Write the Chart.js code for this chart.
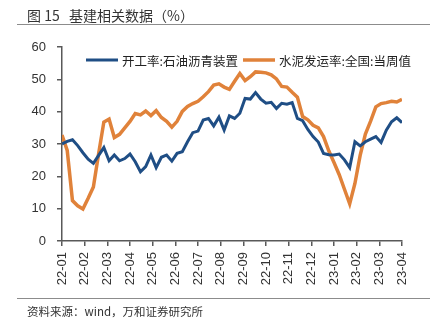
<!DOCTYPE html>
<html>
<head>
<meta charset="utf-8">
<script src="https://cdn.jsdelivr.net/npm/chart.js@4.4.1/dist/chart.umd.min.js"></script>
<style>
  html, body { margin: 0; padding: 0; background: #fff; }
  #wrap { position: relative; width: 443px; height: 331px; overflow: hidden; }
  #c { position: absolute; left: 0; top: 0; }
  .title { position: absolute; left: 27px; top: 5px; font: 14px "Noto Sans CJK SC", sans-serif; color: #333; white-space: pre; }
  .rule { position: absolute; left: 17px; width: 413px; height: 0; border-top: 1.5px solid #8c8c8c; }
  .source { position: absolute; left: 27px; top: 303px; font: 11.5px "Noto Sans CJK SC", sans-serif; color: #333; }
</style>
</head>
<body>
<div id="wrap">
  <canvas id="c" width="443" height="331"></canvas>
  <div class="title">图 15   基建相关数据（%）</div>
  <div class="rule" style="top:24px"></div>
  <div class="rule" style="top:298px"></div>
  <div class="source">资料来源：wind，万和证券研究所</div>
</div>
<script>
// month tick labels (x axis is in months from 22-01)
const monthLabels = ['22-01', '22-02', '22-03', '22-04', '22-05', '22-06', '22-07', '22-08',
                     '22-09', '22-10', '22-11', '22-12', '23-01', '23-02', '23-03', '23-04'];

// weekly readings, 66 weeks from 22-01 to 23-04
const asphaltRate = [30.0, 30.8, 31.3, 29.5, 27.3, 25.3, 24.0, 26.5, 28.9, 24.8,
                     26.6, 24.8, 25.5, 26.9, 24.5, 21.4, 23.0, 26.6, 22.7, 25.9,
                     26.6, 24.7, 27.1, 27.6, 30.7, 33.5, 34.0, 37.4, 37.9, 35.6,
                     38.3, 34.3, 38.7, 37.9, 39.5, 44.1, 43.9, 45.9, 43.9, 42.6,
                     42.9, 41.0, 42.6, 42.3, 42.8, 37.9, 37.2, 34.5, 32.3, 30.6,
                     27.1, 26.7, 26.6, 26.9, 25.1, 22.7, 30.7, 29.4, 30.7, 31.5,
                     32.3, 30.5, 34.3, 36.9, 38.1, 36.6];
const cementRate = [32.8, 28.0, 12.5, 10.9, 9.9, 13.2, 16.7, 27.0, 36.8, 37.7,
                    32.0, 33.0, 35.0, 37.0, 39.4, 39.0, 40.2, 38.8, 40.3, 38.2,
                    37.0, 35.2, 37.0, 40.1, 41.6, 42.5, 43.2, 44.6, 46.2, 48.2,
                    48.6, 47.6, 46.9, 49.4, 51.8, 49.6, 50.8, 52.3, 52.2, 52.0,
                    51.4, 50.1, 47.8, 47.6, 46.0, 44.5, 38.5, 37.5, 35.8, 35.0,
                    32.3, 27.9, 24.3, 20.5, 16.0, 11.5, 17.8, 26.5, 33.1, 37.1,
                    41.5, 42.5, 42.8, 43.2, 43.0, 43.8];
const seriesNames = ['开工率:石油沥青装置', '水泥发运率:全国:当周值'];
const yTicks = [0, 10, 20, 30, 40, 50, 60];

const spanMonths = monthLabels.length - 1;
const toPoints = arr => arr.map((v, i) => ({ x: i * spanMonths / (arr.length - 1), y: v }));

const axisColor = '#595959';
const tickFont = { family: '"Liberation Sans", Arial, sans-serif', size: 13 };

// legend drawn inside the plot, one row, like the original
const inlineLegend = {
    id: 'inlineLegend',
    afterDraw(chart) {
        const ctx = chart.ctx;
        const starts = [86, 243];
        const y = 60;
        ctx.save();
        ctx.font = '12.5px "Noto Sans CJK SC", sans-serif';
        ctx.textBaseline = 'middle';
        chart.data.datasets.forEach((ds, i) => {
            const x = starts[i];
            ctx.strokeStyle = ds.borderColor;
            ctx.lineWidth = ds.borderWidth;
            ctx.beginPath();
            ctx.moveTo(x, y);
            ctx.lineTo(x + 32, y);
            ctx.stroke();
            ctx.fillStyle = '#222';
            ctx.fillText(ds.label, x + 36, y + 1);
        });
        ctx.restore();
    }
};

new Chart(document.getElementById('c'), {
    type: 'line',
    plugins: [inlineLegend],
    data: {
        datasets: [{
            label: seriesNames[0],
            data: toPoints(asphaltRate),
            borderColor: '#1F4E85',
            borderWidth: 3,
            pointRadius: 0,
            tension: 0
        }, {
            label: seriesNames[1],
            data: toPoints(cementRate),
            borderColor: '#E0823A',
            borderWidth: 3.5,
            pointRadius: 0,
            tension: 0
        }]
    },
    options: {
        responsive: false,
        animation: false,
        layout: { padding: { left: 0, right: 41, top: 47, bottom: 0 } },
        plugins: {
            tooltip: { enabled: false },
            legend: { display: false }
        },
        scales: {
            x: {
                type: 'linear',
                min: 0,
                max: spanMonths,
                afterBuildTicks: s => { s.ticks = monthLabels.map((_, i) => ({ value: i })); },
                afterFit: s => { s.height = 90; },
                ticks: {
                    autoSkip: false,
                    minRotation: 90,
                    maxRotation: 90,
                    padding: 6,
                    color: '#333',
                    font: tickFont,
                    callback: v => monthLabels[v]
                },
                grid: { display: true, drawOnChartArea: false, drawTicks: true, tickLength: 5, color: axisColor, lineWidth: 1.5 },
                border: { display: true, color: axisColor, width: 1.5 }
            },
            y: {
                min: 0,
                max: 60,
                afterBuildTicks: s => { s.ticks = yTicks.map(v => ({ value: v })); },
                afterFit: s => { s.width = 62; },
                ticks: { padding: 11, color: '#333', font: tickFont },
                grid: { display: true, drawOnChartArea: false, drawTicks: true, tickLength: 5, color: axisColor, lineWidth: 1.5 },
                border: { display: true, color: axisColor, width: 1.5 }
            }
        }
    }
});
</script>
</body>
</html>
